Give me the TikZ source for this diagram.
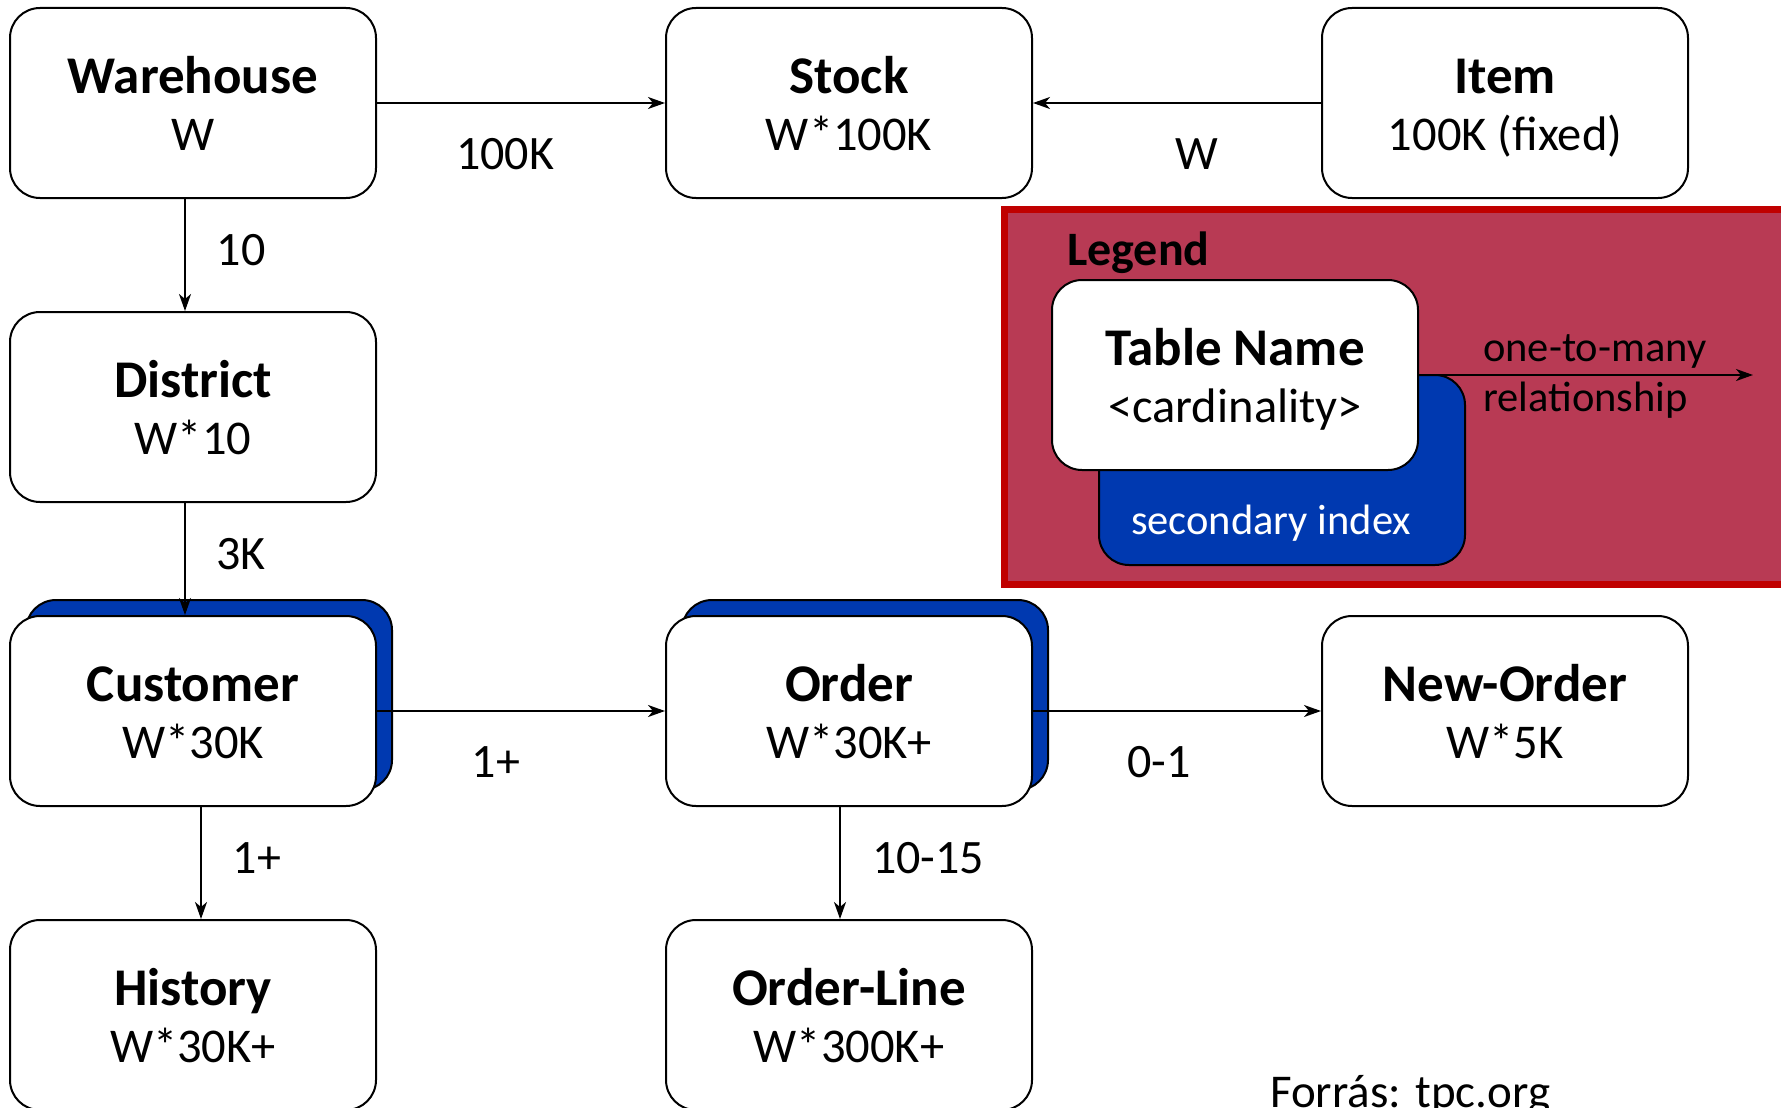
\documentclass[tikz,border=0pt]{standalone}
\usepackage{fontspec}
\setmainfont{Carlito}
\usetikzlibrary{calc,arrows.meta}
\definecolor{legfill}{HTML}{B83A54}
\definecolor{legred}{HTML}{C00000}
\definecolor{idxblue}{HTML}{0039B0}
\tikzset{
  box/.style={draw=black, line width=2pt, fill=white, rounded corners=30pt,
    minimum width=366pt, minimum height=190pt, inner sep=0pt},
  shadowbox/.style={box, fill=idxblue},
  ttl/.style={anchor=base, inner sep=0pt, font=\fontsize{53}{58}\selectfont\bfseries},
  sub/.style={anchor=base, inner sep=0pt, font=\fontsize{48.5}{52}\selectfont},
  lbl/.style={anchor=base, inner sep=0pt, font=\fontsize{48}{52}\selectfont},
  arr/.style={-{Stealth[length=17pt,width=12pt,inset=5pt]}, line width=1.8pt},
}
\newcommand{\tablebox}[5]{%
  \node[box] (#1) at (#2,#3) {};
  \node[ttl] (#1t) at ($(#1.north)+(0,86)$) {#4};
  \node[sub] (#1s) at ($(#1.north)+(0,143)$) {#5};
}
\begin{document}
\begin{tikzpicture}[x=1pt,y=-1pt]
\useasboundingbox (0,0) rectangle (1781,1108);
\clip (0,0) rectangle (1781,1108);

% legend
\node[draw=legred, line width=7pt, fill=legfill, minimum width=820pt, minimum height=375pt, inner sep=0pt] (leg) at (1414,396.5) {};
\node[anchor=base west, inner sep=0pt, font=\fontsize{48}{52}\selectfont\bfseries] (legt) at (1067,265) {Legend};
\node[shadowbox] (lb) at (1282,470) {};
\node[anchor=base, inner sep=0pt, text=white, font=\fontsize{42.5}{46}\selectfont] (lbt) at (1271,534) {secondary index};
\tablebox{tb}{1235}{375}{Table Name}{<cardinality>}
\coordinate (legtip) at (1753,375);
\draw[arr] (tb.east) -- (legtip);
\node[anchor=base west, inner sep=0pt, font=\fontsize{42.5}{46}\selectfont] (l1) at (1483,361) {one-to-many};
\node[anchor=base west, inner sep=0pt, font=\fontsize{42.5}{46}\selectfont] (l2) at (1483,411) {relationship};

% shadows (secondary index)
\node[shadowbox] (cshadow) at (209,695) {};
\node[shadowbox] (oshadow) at (865,695) {};

% tables
\tablebox{w}{193}{103}{Warehouse}{W}
\tablebox{s}{849}{103}{Stock}{W*100K}
\tablebox{i}{1505}{103}{Item}{100K (fixed)}
\tablebox{d}{193}{407}{District}{W*10}
\tablebox{c}{193}{711}{Customer}{W*30K}
\tablebox{o}{849}{711}{Order}{W*30K+}
\tablebox{n}{1505}{711}{New-Order}{W*5K}
\tablebox{h}{193}{1015}{History}{W*30K+}
\tablebox{ol}{849}{1015}{Order-Line}{W*300K+}

% connectors
\draw[arr] (w.east) -- (s.west);
\draw[arr] (i.west) -- (s.east);
\draw[arr] ([xshift=-8pt]w.south) -- ([xshift=-8pt]d.north);
\draw[arr] ([xshift=-8pt]d.south) -- ([xshift=-8pt]c.north);
\draw[arr] (c.east) -- (o.west);
\draw[arr] (o.east) -- (n.west);
\draw[arr] ([xshift=8pt]c.south) -- ([xshift=8pt]h.north);
\draw[arr] ([xshift=-9pt]o.south) -- ([xshift=-9pt]ol.north);

% edge labels
\node[lbl] (e1) at (505,169) {100K};
\node[lbl] (e2) at (1197,169) {W};
\node[lbl] (e3) at (241,265) {10};
\node[lbl] (e4) at (241,569) {3K};
\node[lbl] (e5) at (496,777) {1+};
\node[lbl] (e6) at (1159,777) {0-1};
\node[lbl] (e7) at (257,873) {1+};
\node[lbl] (e8) at (928,873) {10-15};

\node[anchor=base west, inner sep=0pt, font=\fontsize{47}{51}\selectfont] (src) at (1270,1107) {Forrás: tpc.org};
\end{tikzpicture}
\end{document}
